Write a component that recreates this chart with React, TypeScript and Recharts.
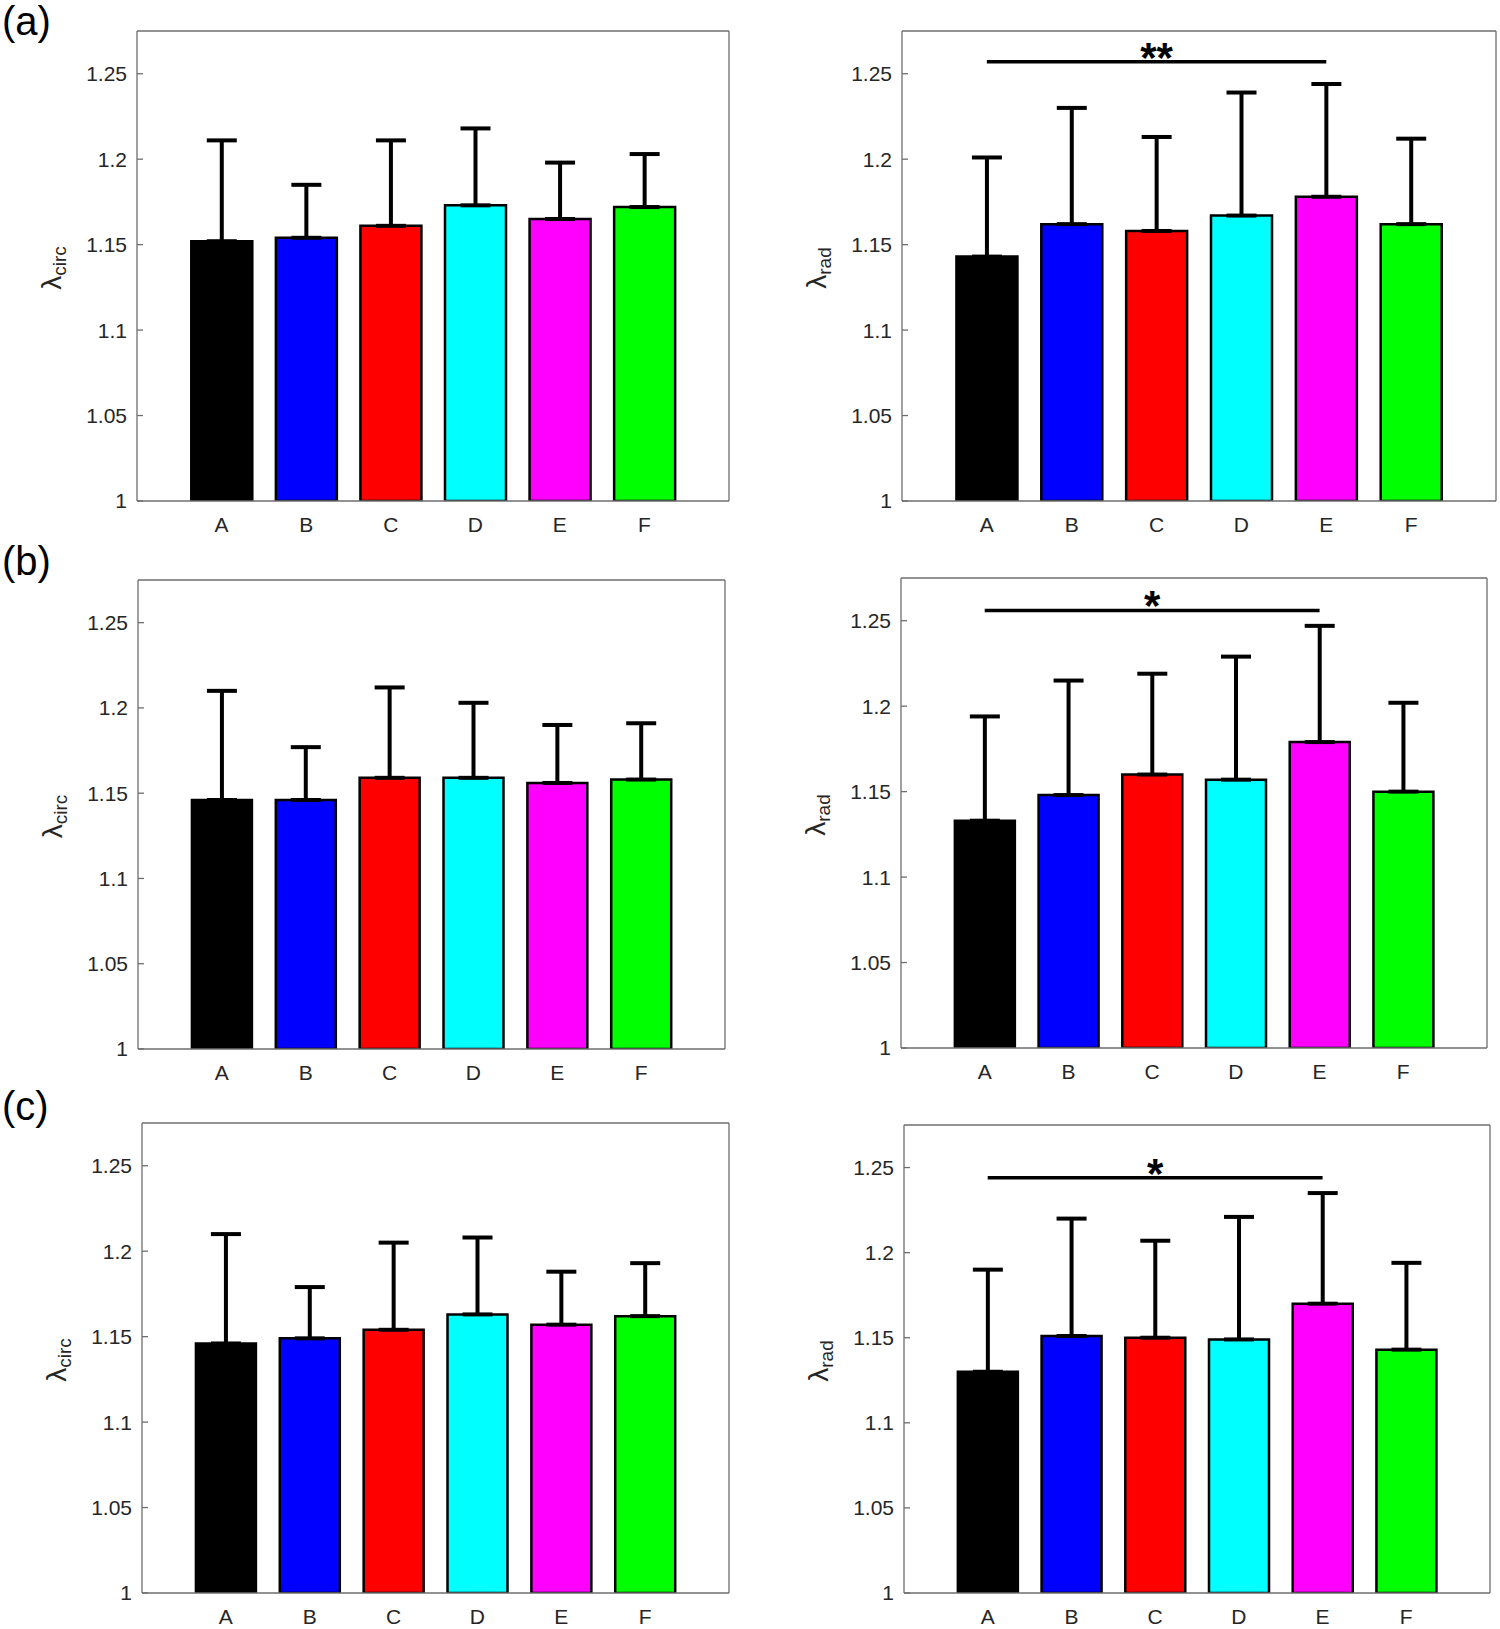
import { Bar, BarChart, Cell, ErrorBar, ReferenceLine, XAxis, YAxis } from "recharts";

const groups = ["A", "B", "C", "D", "E", "F"];
const barColors = ["#000000", "#0000ff", "#ff0000", "#00ffff", "#ff00ff", "#00ff00"];
const yTicks = [1, 1.05, 1.1, 1.15, 1.2, 1.25];

// (a)
const aCircMean = [1.152, 1.154, 1.161, 1.173, 1.165, 1.172];
const aCircErr = [0.059, 0.031, 0.05, 0.045, 0.033, 0.031];
const aRadMean = [1.143, 1.162, 1.158, 1.167, 1.178, 1.162];
const aRadErr = [0.058, 0.068, 0.055, 0.072, 0.066, 0.05];
// (b)
const bCircMean = [1.146, 1.146, 1.159, 1.159, 1.156, 1.158];
const bCircErr = [0.064, 0.031, 0.053, 0.044, 0.034, 0.033];
const bRadMean = [1.133, 1.148, 1.16, 1.157, 1.179, 1.15];
const bRadErr = [0.061, 0.067, 0.059, 0.072, 0.068, 0.052];
// (c)
const cCircMean = [1.146, 1.149, 1.154, 1.163, 1.157, 1.162];
const cCircErr = [0.064, 0.03, 0.051, 0.045, 0.031, 0.031];
const cRadMean = [1.13, 1.151, 1.15, 1.149, 1.17, 1.143];
const cRadErr = [0.06, 0.069, 0.057, 0.072, 0.065, 0.051];

// significance bar A..E on the radial panels
const sigLevel = [1.257, 1.256, 1.244];
const sigMark = ["**", "*", "*"];

const font = '"Liberation Sans", Arial, Helvetica, sans-serif';
const boxColor = "#6e6e6e";
const textColor = "#262626";

function rows(means: number[], errs: number[]) {
  return groups.map((name, i) => ({ name, mean: means[i], err: [0, errs[i]] }));
}

function yLabel(sub: string) {
  return (props: any) => {
    const vb = props.viewBox;
    const bx = vb.x + vb.width - 76;
    const cy = vb.y + vb.height / 2 + 2;
    return (
      <text transform={`rotate(-90 ${bx} ${cy})`} x={bx} y={cy} textAnchor="middle" fill={textColor} fontFamily={font}>
        <tspan fontSize={28}>λ</tspan>
        <tspan fontSize={19} dy={5}>{sub}</tspan>
      </text>
    );
  };
}

function sigLabel(mark: string) {
  return (props: any) => {
    const vb = props.viewBox || {};
    const cx = (vb.x ?? 0) + (vb.width ?? 0) / 2;
    const y = vb.y ?? 0;
    return (
      <text x={cx} y={y + 10} textAnchor="middle" fontSize={42} fontWeight="bold" fontFamily={font} fill="#000">
        {mark}
      </text>
    );
  };
}

interface PanelProps {
  left: number;
  top: number;
  w: number;
  h: number;
  means: number[];
  errs: number[];
  sub: string;
  sig?: number;
  mark?: string;
}

function Panel({ left, top, w, h, means, errs, sub, sig, mark }: PanelProps) {
  const data = rows(means, errs);
  const pad = w / 14;
  const band = w / 7;
  return (
    <div style={{ position: "absolute", left: left - 110, top: top - 10 }}>
      <BarChart width={w + 120} height={h + 55} data={data} margin={{ top: 0, right: 0, bottom: 0, left: 0 }}>
        <XAxis
          xAxisId="x"
          dataKey="name"
          orientation="bottom"
          height={45}
          padding={{ left: pad, right: pad }}
          axisLine={{ stroke: boxColor, strokeWidth: 1.3 }}
          tickLine={false}
          tickSize={0}
          tickMargin={16}
          tick={{ fontSize: 21, fill: textColor, fontFamily: font }}
        />
        <XAxis
          xAxisId="xt"
          dataKey="name"
          orientation="top"
          height={10}
          padding={{ left: pad, right: pad }}
          axisLine={{ stroke: boxColor, strokeWidth: 1.3 }}
          tickLine={{ stroke: boxColor, strokeWidth: 1.3 }}
          tickSize={-6}
          tick={false}
        />
        <YAxis
          yAxisId="y"
          orientation="left"
          width={110}
          type="number"
          domain={[1, 1.275]}
          allowDataOverflow
          ticks={yTicks}
          interval={0}
          axisLine={{ stroke: boxColor, strokeWidth: 1.3 }}
          tickLine={{ stroke: boxColor, strokeWidth: 1.3 }}
          tickSize={-6}
          tickMargin={16}
          tick={{ fontSize: 21, fill: textColor, fontFamily: font }}
          label={yLabel(sub)}
        />
        <YAxis
          yAxisId="yr"
          orientation="right"
          width={10}
          type="number"
          domain={[1, 1.275]}
          allowDataOverflow
          ticks={yTicks}
          interval={0}
          axisLine={{ stroke: boxColor, strokeWidth: 1.3 }}
          tickLine={{ stroke: boxColor, strokeWidth: 1.3 }}
          tickSize={-6}
          tick={false}
        />
        <Bar
          xAxisId="x"
          yAxisId="y"
          dataKey="mean"
          barSize={Math.round(band * 0.72)}
          stroke="#000"
          strokeWidth={2.5}
          isAnimationActive={false}
        >
          {data.map((_, i) => (
            <Cell key={i} fill={barColors[i]} />
          ))}
          <ErrorBar dataKey="err" direction="y" width={15} stroke="#000" strokeWidth={4} isAnimationActive={false} />
        </Bar>
        {sig !== undefined && (
          <ReferenceLine
            xAxisId="x"
            yAxisId="y"
            segment={[
              { x: "A", y: sig },
              { x: "E", y: sig },
            ]}
            stroke="#000"
            strokeWidth={3.5}
            label={sigLabel(mark ?? "*")}
          />
        )}
      </BarChart>
    </div>
  );
}

function PanelTag({ text, top }: { text: string; top: number }) {
  return (
    <div style={{ position: "absolute", left: 2, top, fontFamily: font, fontSize: 40, lineHeight: "40px", color: "#000" }}>
      {text}
    </div>
  );
}

export default function App() {
  return (
    <div style={{ position: "absolute", left: 0, top: 0, width: 1500, height: 1629, background: "#fff", overflow: "hidden" }}>
      <PanelTag text="(a)" top={1} />
      <PanelTag text="(b)" top={541} />
      <PanelTag text="(c)" top={1086} />

      <Panel left={137} top={31} w={592} h={470} means={aCircMean} errs={aCircErr} sub="circ" />
      <Panel left={902} top={31} w={594} h={470} means={aRadMean} errs={aRadErr} sub="rad" sig={sigLevel[0]} mark={sigMark[0]} />

      <Panel left={138} top={580} w={587} h={469} means={bCircMean} errs={bCircErr} sub="circ" />
      <Panel left={901} top={578} w={586} h={470} means={bRadMean} errs={bRadErr} sub="rad" sig={sigLevel[1]} mark={sigMark[1]} />

      <Panel left={142} top={1123} w={587} h={470} means={cCircMean} errs={cCircErr} sub="circ" />
      <Panel left={904} top={1125} w={586} h={468} means={cRadMean} errs={cRadErr} sub="rad" sig={sigLevel[2]} mark={sigMark[2]} />
    </div>
  );
}
